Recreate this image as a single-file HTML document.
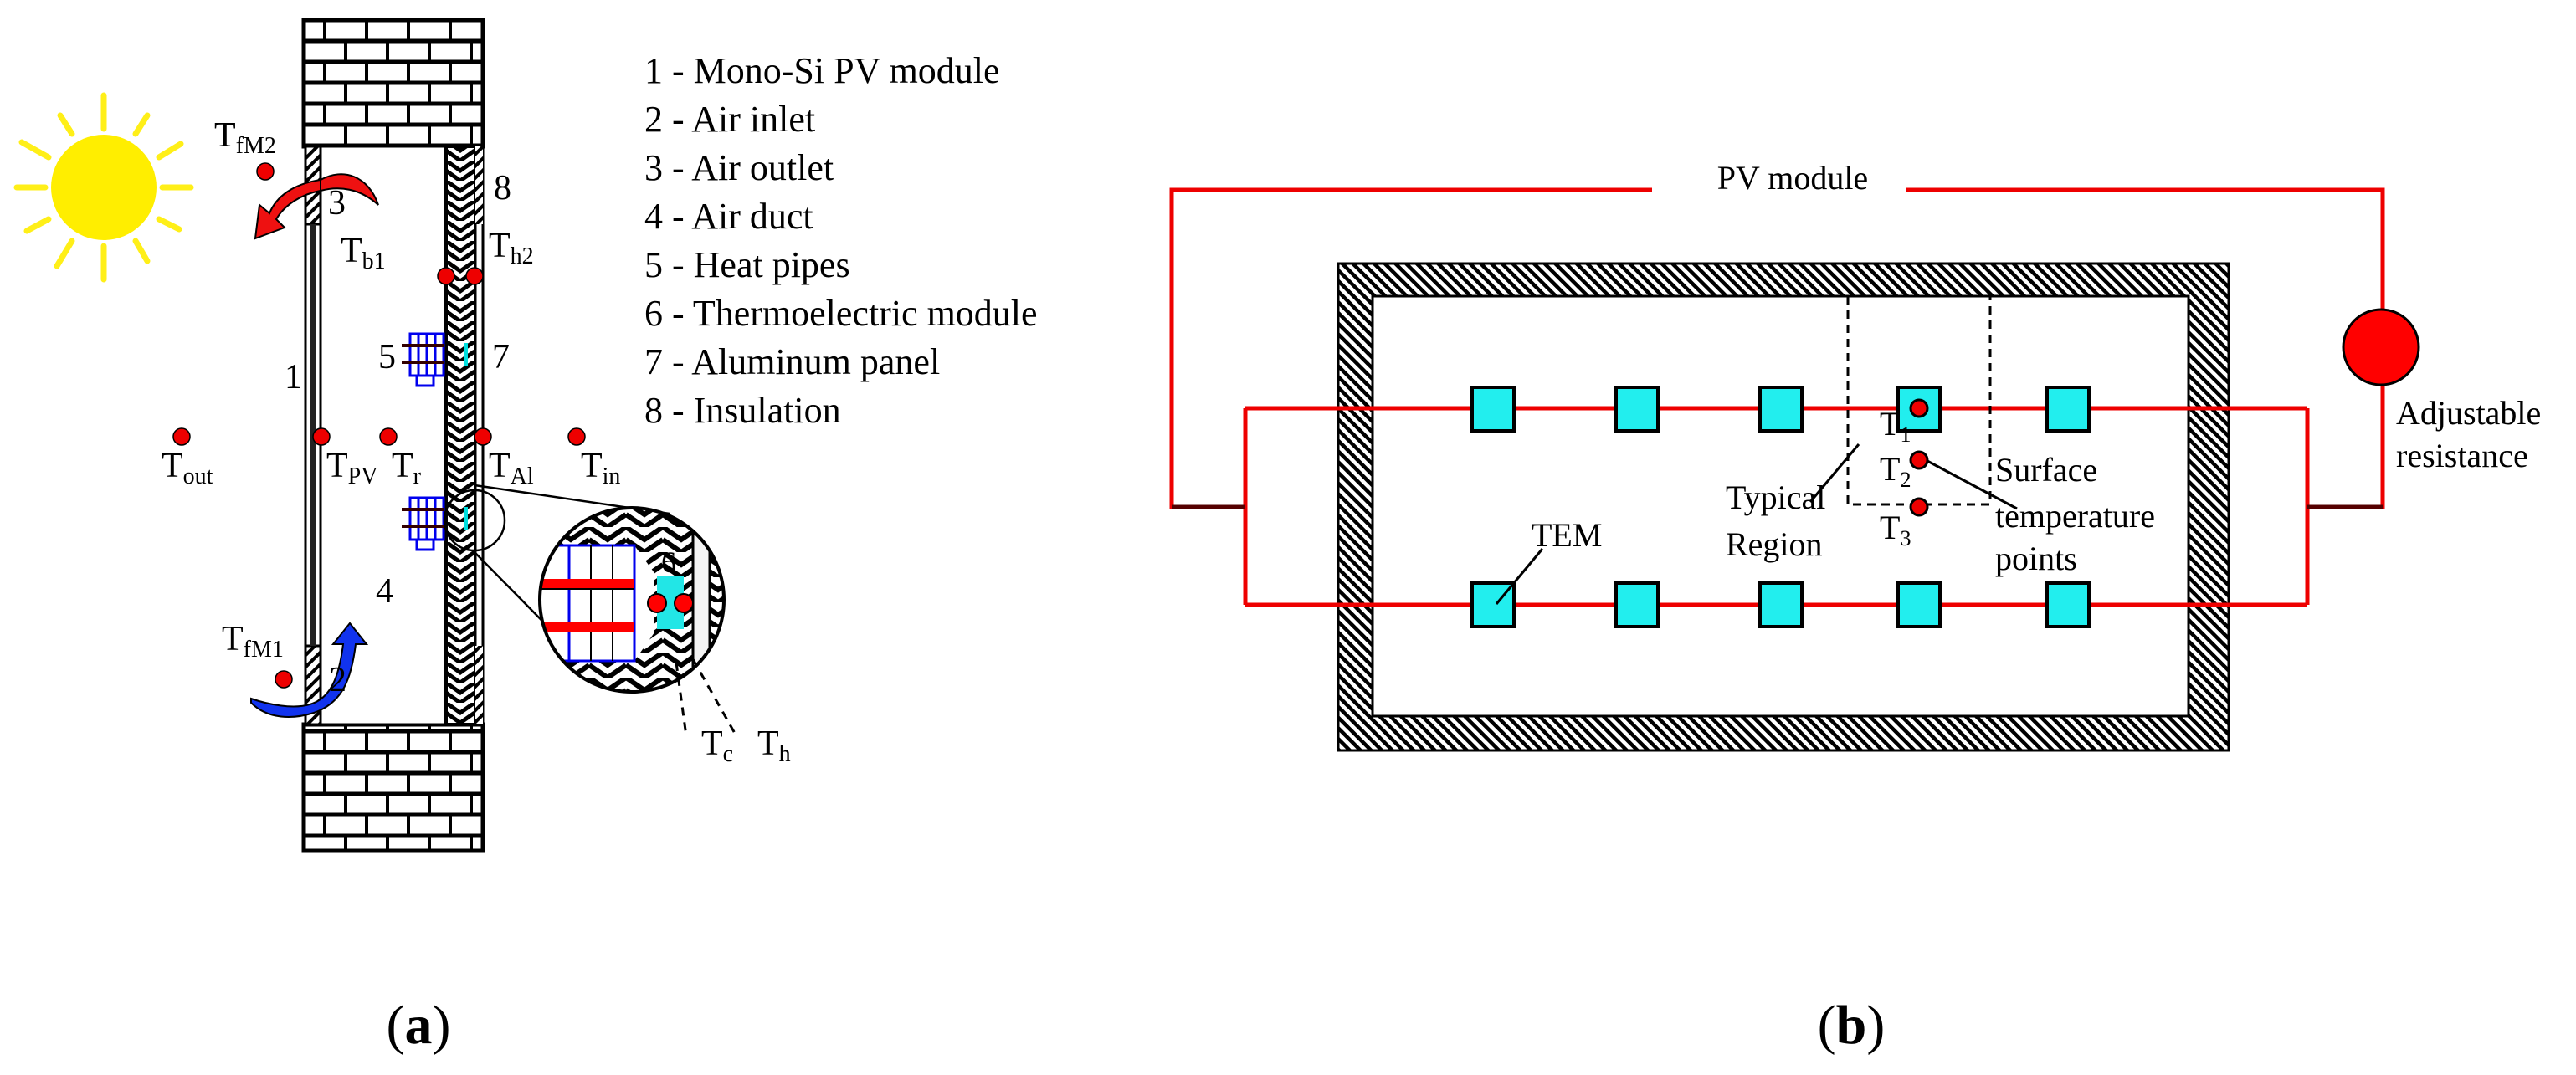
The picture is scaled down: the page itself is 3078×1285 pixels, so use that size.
<!DOCTYPE html>
<html><head><meta charset="utf-8"><style>
html,body{margin:0;padding:0;background:#fff;}
svg{display:block;font-family:"Liberation Serif","Times New Roman",serif;}
svg text{font-family:"Liberation Serif","Times New Roman",serif;fill:#000;}
</style></head><body>
<svg width="3078" height="1285" viewBox="0 0 3078 1285" xmlns="http://www.w3.org/2000/svg" font-family="Liberation Serif, serif">
<defs>
<pattern id="brick" x="363" y="24" width="100" height="50" patternUnits="userSpaceOnUse">
<rect width="100" height="50" fill="#fff"/>
<line x1="0" y1="0" x2="100" y2="0" stroke="#000" stroke-width="5"/>
<line x1="0" y1="25" x2="100" y2="25" stroke="#000" stroke-width="5"/>
<line x1="0" y1="50" x2="100" y2="50" stroke="#000" stroke-width="5"/>
<line x1="25" y1="0" x2="25" y2="25" stroke="#000" stroke-width="4"/>
<line x1="75" y1="0" x2="75" y2="25" stroke="#000" stroke-width="4"/>
<line x1="0" y1="25" x2="0" y2="50" stroke="#000" stroke-width="4"/>
<line x1="50" y1="25" x2="50" y2="50" stroke="#000" stroke-width="4"/>
<line x1="100" y1="25" x2="100" y2="50" stroke="#000" stroke-width="4"/>
</pattern>
<pattern id="diag" width="10" height="10" patternUnits="userSpaceOnUse" patternTransform="rotate(45)">
<rect width="10" height="10" fill="#fff"/><rect width="4" height="10" fill="#000"/>
</pattern>
<pattern id="hatch" width="9" height="9" patternUnits="userSpaceOnUse" patternTransform="rotate(-45)">
<rect width="9" height="9" fill="#fff"/><rect width="4.5" height="9" fill="#000"/>
</pattern>
<pattern id="herr" width="34" height="24" patternUnits="userSpaceOnUse" x="533" y="0">
<rect width="34" height="24" fill="#fff"/>
<path d="M0 0 L17 12 L34 0 M0 12 L17 24 L34 12" stroke="#000" stroke-width="5" fill="none"/>
</pattern>
<pattern id="herr2" width="44" height="30" patternUnits="userSpaceOnUse">
<rect width="44" height="30" fill="#fff"/>
<path d="M0 0 L22 15 L44 0 M0 15 L22 30 L44 15" stroke="#000" stroke-width="6" fill="none"/>
</pattern>
<clipPath id="zc"><circle cx="755" cy="717" r="110"/></clipPath>
</defs>

<!-- Sun -->
<g stroke="#ffee00" stroke-width="7" stroke-linecap="round" opacity="0.9">
<line x1="124" y1="154" x2="124" y2="114"/><line x1="124" y1="294" x2="124" y2="334"/>
<line x1="54" y1="224" x2="20" y2="224"/><line x1="194" y1="224" x2="228" y2="224"/>
<line x1="86" y1="160" x2="72" y2="138"/><line x1="162" y1="160" x2="176" y2="138"/>
<line x1="86" y1="288" x2="68" y2="318"/><line x1="162" y1="288" x2="176" y2="312"/>
<line x1="58" y1="188" x2="26" y2="170"/><line x1="190" y1="188" x2="216" y2="172"/>
<line x1="58" y1="262" x2="32" y2="276"/><line x1="190" y1="262" x2="214" y2="274"/>
</g>
<circle cx="124" cy="224" r="63" fill="#ffee00"/>

<!-- Wall bricks -->
<rect x="363" y="24" width="214" height="151" fill="url(#brick)" stroke="#000" stroke-width="5"/>
<rect x="363" y="866" width="214" height="151" fill="url(#brick)" stroke="#000" stroke-width="5"/>
<!-- cavity -->
<rect x="383" y="175" width="150" height="691" fill="#fff" stroke="#000" stroke-width="3"/>
<rect x="365" y="175" width="18" height="93" fill="url(#diag)" stroke="#000" stroke-width="3"/>
<rect x="365" y="772" width="18" height="94" fill="url(#diag)" stroke="#000" stroke-width="3"/>
<rect x="365" y="268" width="18" height="504" fill="#fff" stroke="#000" stroke-width="3"/>
<rect x="370" y="268" width="8" height="504" fill="#222"/>
<rect x="533" y="175" width="35" height="691" fill="url(#herr)" stroke="#000" stroke-width="4"/>
<rect x="568" y="175" width="9" height="691" fill="#fff" stroke="#000" stroke-width="3"/>
<rect x="568" y="175" width="9" height="93" fill="url(#diag)"/>
<rect x="568" y="772" width="9" height="94" fill="url(#diag)"/>

<!-- heat pipe units -->
<g id="hp1">
<rect x="490" y="399" width="40" height="50" fill="#fff" stroke="#0000ee" stroke-width="3"/>
<line x1="500" y1="399" x2="500" y2="449" stroke="#0000ee" stroke-width="3"/>
<line x1="510" y1="399" x2="510" y2="449" stroke="#0000ee" stroke-width="3"/>
<line x1="520" y1="399" x2="520" y2="449" stroke="#0000ee" stroke-width="3"/>
<line x1="480" y1="413" x2="530" y2="413" stroke="#300" stroke-width="4"/>
<line x1="480" y1="433" x2="530" y2="433" stroke="#300" stroke-width="4"/>
<rect x="554" y="410" width="5" height="28" fill="#00e0e0"/>
<rect x="498" y="449" width="20" height="12" fill="#fff" stroke="#0000ee" stroke-width="3"/>
</g>
<use href="#hp1" y="196"/>
<circle cx="567" cy="622" r="36" fill="none" stroke="#000" stroke-width="2.5"/>
<line x1="567" y1="580" x2="800" y2="614" stroke="#000" stroke-width="2.5"/>
<line x1="567" y1="660" x2="695" y2="790" stroke="#000" stroke-width="2.5"/>

<!-- zoom circle -->
<g clip-path="url(#zc)">
<rect x="640" y="600" width="240" height="240" fill="url(#herr2)"/>
<rect x="828" y="600" width="20" height="240" fill="#f4f4f4"/>
<line x1="828" y1="600" x2="828" y2="840" stroke="#000" stroke-width="3"/>
<line x1="848" y1="600" x2="848" y2="840" stroke="#000" stroke-width="3"/>
<path d="M640 652 L758 652 L782 685 L782 756 L758 790 L640 790 Z" fill="#fff"/>
<rect x="640" y="652" width="118" height="138" fill="#fff" stroke="#0000ee" stroke-width="3"/>
<line x1="680" y1="652" x2="680" y2="790" stroke="#0000ee" stroke-width="3"/>
<line x1="706" y1="652" x2="706" y2="790" stroke="#000" stroke-width="2"/>
<line x1="732" y1="652" x2="732" y2="790" stroke="#000" stroke-width="2"/>
<line x1="645" y1="704" x2="758" y2="704" stroke="#000" stroke-width="2"/>
<line x1="645" y1="748" x2="758" y2="748" stroke="#000" stroke-width="2"/>
<rect x="645" y="692" width="112" height="11" fill="#ff0000"/>
<rect x="645" y="744" width="112" height="11" fill="#ff0000"/>
<rect x="785" y="688" width="32" height="64" fill="#22e6e6"/>
<circle cx="785" cy="721" r="11" fill="#ff0000" stroke="#000" stroke-width="2"/>
<circle cx="817" cy="721" r="11" fill="#ff0000" stroke="#000" stroke-width="2"/>
</g>
<circle cx="755" cy="717" r="110" fill="none" stroke="#000" stroke-width="4"/>
<text x="790" y="684" font-size="36">6</text>
<line x1="808" y1="792" x2="820" y2="880" stroke="#000" stroke-width="3" stroke-dasharray="10,8"/>
<line x1="828" y1="788" x2="880" y2="880" stroke="#000" stroke-width="3" stroke-dasharray="10,8"/>

<!-- arrows -->
<path d="M383 215 C 410 200, 440 210, 452 245 C 430 225, 405 222, 383 228 Z" fill="#ee1111" stroke="#000" stroke-width="2"/>
<path d="M383 215 C 350 220, 330 235, 322 255 L 310 245 L 305 285 L 340 272 L 330 262 C 340 245, 360 232, 383 228 Z" fill="#ee1111" stroke="#000" stroke-width="2"/>
<path d="M300 840 C 320 860, 350 860, 375 852 C 410 840, 420 810, 425 770 L 438 770 L 418 745 L 398 770 L 410 770 C 405 810, 395 835, 370 842 C 350 848, 320 842, 300 835 Z" fill="#1133ee" stroke="#000" stroke-width="2"/>

<!-- dots -->
<g fill="#ee0000" stroke="#000" stroke-width="1.5">
<circle cx="317" cy="205" r="10"/><circle cx="339" cy="812" r="10"/>
<circle cx="533" cy="330" r="10"/><circle cx="567" cy="330" r="10"/>
<circle cx="217" cy="522" r="10"/><circle cx="384" cy="522" r="10"/><circle cx="464" cy="522" r="10"/>
<circle cx="577" cy="522" r="10"/><circle cx="689" cy="522" r="10"/>
</g>

<!-- panel a labels -->
<g font-size="42">
<text x="256" y="175">T<tspan font-size="28" dy="8">fM2</tspan></text>
<text x="265" y="777">T<tspan font-size="28" dy="8">fM1</tspan></text>
<text x="407" y="313">T<tspan font-size="28" dy="8">b1</tspan></text>
<text x="584" y="307">T<tspan font-size="28" dy="8">h2</tspan></text>
<text x="193" y="570">T<tspan font-size="28" dy="8">out</tspan></text>
<text x="390" y="570">T<tspan font-size="28" dy="8">PV</tspan></text>
<text x="468" y="570">T<tspan font-size="28" dy="8">r</tspan></text>
<text x="584" y="570">T<tspan font-size="28" dy="8">Al</tspan></text>
<text x="694" y="570">T<tspan font-size="28" dy="8">in</tspan></text>
<text x="838" y="902">T<tspan font-size="28" dy="8">c</tspan></text>
<text x="905" y="902">T<tspan font-size="28" dy="8">h</tspan></text>
<text x="392" y="256">3</text><text x="590" y="238">8</text>
<text x="340" y="464">1</text><text x="452" y="440">5</text><text x="588" y="440">7</text>
<text x="449" y="720">4</text><text x="393" y="826">2</text>
</g>
<g font-size="44">
<text x="770" y="99">1 - Mono-Si PV module</text>
<text x="770" y="157">2 - Air inlet</text>
<text x="770" y="215">3 - Air outlet</text>
<text x="770" y="273">4 - Air duct</text>
<text x="770" y="331">5 - Heat pipes</text>
<text x="770" y="389">6 - Thermoelectric module</text>
<text x="770" y="447">7 - Aluminum panel</text>
<text x="770" y="505">8 - Insulation</text>
</g>
<text x="500" y="1247" font-size="66" text-anchor="middle">(<tspan font-weight="bold">a</tspan>)</text>
<text x="2212" y="1247" font-size="66" text-anchor="middle">(<tspan font-weight="bold">b</tspan>)</text>

<!-- panel b -->
<rect x="1599" y="315" width="1064" height="582" fill="url(#hatch)" stroke="#000" stroke-width="3"/>
<rect x="1640" y="354" width="975" height="502" fill="#fff" stroke="#000" stroke-width="3"/>
<g fill="none" stroke="#ee0000" stroke-width="5">
<polyline points="1974,227 1400,227 1400,606 1488,606"/>
<polyline points="2278,227 2847,227 2847,370"/>
<polyline points="2847,460 2847,606 2757,606"/>
<polyline points="1488,488 1488,723"/>
<line x1="1488" y1="488" x2="2757" y2="488"/>
<line x1="1488" y1="723" x2="2757" y2="723"/>
<polyline points="2757,488 2757,723"/>
</g>
<line x1="1400" y1="606" x2="1488" y2="606" stroke="#550000" stroke-width="5"/>
<line x1="2757" y1="606" x2="2847" y2="606" stroke="#550000" stroke-width="5"/>
<circle cx="2845" cy="415" r="45" fill="#ff0000" stroke="#000" stroke-width="3"/>
<g fill="#22eeee" stroke="#000" stroke-width="4">
<rect x="1759" y="463" width="50" height="52"/><rect x="1931" y="463" width="50" height="52"/><rect x="2103" y="463" width="50" height="52"/><rect x="2268" y="463" width="50" height="52"/><rect x="2446" y="463" width="50" height="52"/>
<rect x="1759" y="697" width="50" height="52"/><rect x="1931" y="697" width="50" height="52"/><rect x="2103" y="697" width="50" height="52"/><rect x="2268" y="697" width="50" height="52"/><rect x="2446" y="697" width="50" height="52"/>
</g>
<polyline points="2208,354 2208,603 2378,603 2378,354" fill="none" stroke="#000" stroke-width="3" stroke-dasharray="10,7"/>
<g fill="#ee0000" stroke="#000" stroke-width="3">
<circle cx="2293" cy="488" r="10"/><circle cx="2293" cy="550" r="10"/><circle cx="2293" cy="606" r="10"/>
</g>
<g stroke="#000" stroke-width="3">
<line x1="1843" y1="656" x2="1788" y2="722"/>
<line x1="2221" y1="531" x2="2163" y2="600"/>
<line x1="2303" y1="551" x2="2410" y2="608"/>
</g>
<g font-size="40">
<text x="2142" y="226" text-anchor="middle">PV module</text>
<text x="2863" y="507">Adjustable</text>
<text x="2863" y="558">resistance</text>
<text x="1830" y="653">TEM</text>
<text x="2062" y="608">Typical</text>
<text x="2062" y="664">Region</text>
<text x="2384" y="575">Surface</text>
<text x="2384" y="630">temperature</text>
<text x="2384" y="681">points</text>
<text x="2246" y="520">T<tspan font-size="26" dy="8">1</tspan></text>
<text x="2246" y="574">T<tspan font-size="26" dy="8">2</tspan></text>
<text x="2246" y="644">T<tspan font-size="26" dy="8">3</tspan></text>
</g>
</svg>
</body></html>
